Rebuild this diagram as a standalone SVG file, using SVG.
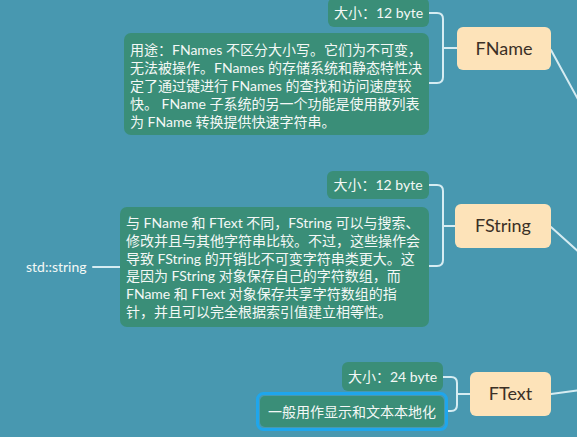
<svg xmlns="http://www.w3.org/2000/svg" width="577" height="437" viewBox="0 0 577 437">
<style>
  text { font-family: "Lato", "Noto Sans CJK SC", "Noto Sans", sans-serif; }
  .bg { fill: #4898b0; }
  .sub { fill: #3a8e78; }
  .main { fill: #fde3b9; }
  .lt { fill: #f4f8f6; font-size: 14px; }
  .mt { fill: #3b3026; font-size: 18px; text-anchor: middle; }
  .c { fill: none; stroke: #d6ecf2; stroke-width: 2; stroke-linecap: round; }
  .sel { fill: none; stroke: #1fa6ec; stroke-width: 3; }
</style>
<rect class="bg" x="0" y="0" width="577" height="437"/>

<g id="connectors">
  <path class="c" d="M429,13 H437 Q443,13 443,19 V77 Q443,83 437,83 H429 M443,48 H457"/>
  <path class="c" d="M429,185 H437 Q443,185 443,191 V260 Q443,266 437,266 H429 M443,226 H455"/>
  <path class="c" d="M443,377 H451 Q457,377 457,383 V405 Q457,411 451,411 H447 M457,394 H470"/>
  <path class="c" d="M551,50 L580,103"/>
  <path class="c" d="M551,227 L580,253"/>
  <path class="c" d="M551,394 L580,390"/>
  <path class="c" d="M93,267 H120"/>
</g>

<g id="fname">
  <rect class="main" x="457" y="27" width="94" height="43" rx="6"/>
  <text class="mt" x="504" y="55">FName</text>
</g>
<g id="fname-size">
  <rect class="sub" x="328" y="-2" width="101" height="29" rx="6"/>
  <text class="lt" x="378.5" y="18" text-anchor="middle">大小：12 byte</text>
</g>
<g id="fname-desc">
  <rect class="sub" x="124" y="33" width="305" height="102" rx="7"/>
  <text class="lt" x="130" y="55">用途：FNames 不区分大小写。它们为不可变，</text>
  <text class="lt" x="130" y="73">无法被操作。FNames 的存储系统和静态特性决</text>
  <text class="lt" x="130" y="91">定了通过键进行 FNames 的查找和访问速度较</text>
  <text class="lt" x="130" y="109" xml:space="preserve">快。 FName 子系统的另一个功能是使用散列表</text>
  <text class="lt" x="130" y="127">为 FName 转换提供快速字符串。</text>
</g>

<g id="fstring">
  <rect class="main" x="455" y="204" width="96" height="44" rx="6"/>
  <text class="mt" x="503" y="232">FString</text>
</g>
<g id="fstring-size">
  <rect class="sub" x="327" y="171" width="102" height="28" rx="6"/>
  <text class="lt" x="378" y="190" text-anchor="middle">大小：12 byte</text>
</g>
<g id="fstring-desc">
  <rect class="sub" x="120" y="207" width="309" height="120" rx="7"/>
  <text class="lt" x="126" y="228">与 FName 和 FText 不同，FString 可以与搜索、</text>
  <text class="lt" x="126" y="246">修改并且与其他字符串比较。不过，这些操作会</text>
  <text class="lt" x="126" y="263.5">导致 FString 的开销比不可变字符串类更大。这</text>
  <text class="lt" x="126" y="281">是因为 FString 对象保存自己的字符数组，而</text>
  <text class="lt" x="126" y="299">FName 和 FText 对象保存共享字符数组的指</text>
  <text class="lt" x="126" y="317">针，并且可以完全根据索引值建立相等性。</text>
</g>
<g id="std-string">
  <text class="lt" x="26" y="272">std::string</text>
</g>

<g id="ftext">
  <rect class="main" x="470" y="372" width="81" height="44" rx="6"/>
  <text class="mt" x="510.5" y="400">FText</text>
</g>
<g id="ftext-size">
  <rect class="sub" x="342" y="362" width="101" height="29" rx="6"/>
  <text class="lt" x="392.5" y="382" text-anchor="middle">大小：24 byte</text>
</g>
<g id="ftext-desc">
  <rect class="sub" x="260" y="396" width="184" height="31" rx="5"/>
  <rect class="sel" x="257.5" y="393.5" width="189" height="36" rx="6"/>
  <text class="lt" x="352" y="417" text-anchor="middle">一般用作显示和文本本地化</text>
</g>
</svg>
